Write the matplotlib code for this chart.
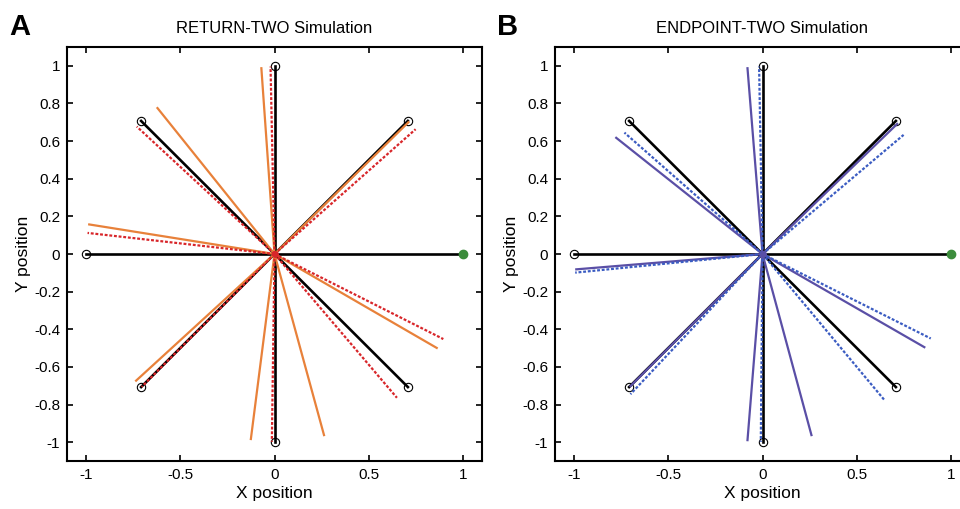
import matplotlib
matplotlib.use("Agg")
import matplotlib.pyplot as plt
import numpy as np

plt.rcParams['font.family'] = ['Liberation Sans', 'DejaVu Sans']

# Targets (unit circle, 8 directions)
target_x = [1, 0.7071, 0, -0.7071, -1, -0.7071, 0, 0.7071]
target_y = [0, 0.7071, 1, 0.7071, 0, -0.7071, -1, -0.7071]

# Panel A: RETURN-TWO simulation
a_solid_x = [-0.07, -0.624, -0.988, -0.738, -0.126, 0.264, 0.865, 0.714]
a_solid_y = [0.993, 0.780, 0.158, -0.677, -0.989, -0.968, -0.502, 0.704]
a_dash_x = [-0.021, -0.730, -0.991, -0.704, -0.014, 0.649, 0.895, 0.748]
a_dash_y = [0.996, 0.677, 0.112, -0.706, -0.998, -0.764, -0.452, 0.663]

# Panel B: ENDPOINT-TWO simulation
b_solid_x = [-0.080, -0.780, -0.993, -0.704, -0.080, 0.261, 0.863, 0.718]
b_solid_y = [0.993, 0.621, -0.082, -0.706, -0.995, -0.968, -0.498, 0.695]
b_dash_x = [-0.018, -0.732, -0.993, -0.700, -0.009, 0.647, 0.892, 0.748]
b_dash_y = [0.996, 0.645, -0.099, -0.745, -0.998, -0.777, -0.449, 0.633]

ticks_x = [-1, -0.5, 0, 0.5, 1]
ticks_y = [-1, -0.8, -0.6, -0.4, -0.2, 0, 0.2, 0.4, 0.6, 0.8, 1]

fig = plt.figure(figsize=(9.6, 5.09), dpi=100)
W, H = 960, 509

def make_ax(left_px, title, letter, solid_x, solid_y, dash_x, dash_y, solid_c, dash_c, center_c):
    ax = fig.add_axes([left_px / W, 1 - 461 / H, 415 / W, 414 / H])
    for sx, sy in zip(solid_x, solid_y):
        ax.plot([0, sx], [0, sy], color=solid_c, lw=1.6, solid_capstyle='butt', zorder=3)
    for tx, ty in zip(target_x, target_y):
        ax.plot([0, tx], [0, ty], color='black', lw=1.9, zorder=2)
    for dx, dy in zip(dash_x, dash_y):
        ax.plot([0, dx], [0, dy], color=dash_c, lw=1.6, linestyle=(0, (1.3, 0.8)), zorder=4)
    ax.plot(target_x[1:], target_y[1:], 'o', ms=6, mfc='white', mec='black', mew=0.8,
            zorder=1, linestyle='none')
    ax.plot([target_x[0]], [target_y[0]], 'o', ms=6, mfc='#3c8c3c', mec='#3c8c3c', zorder=5)
    ax.plot([0], [0], 'o', ms=4, color=center_c, zorder=6)
    ax.set_xlim(-1.1, 1.1)
    ax.set_ylim(-1.1, 1.1)
    ax.set_xticks(ticks_x)
    ax.set_xticklabels(['-1', '-0.5', '0', '0.5', '1'])
    ax.set_yticks(ticks_y)
    ax.set_yticklabels(['-1', '-0.8', '-0.6', '-0.4', '-0.2', '0', '0.2', '0.4', '0.6', '0.8', '1'])
    ax.tick_params(direction='in', length=4, width=1.2, top=True, right=True,
                   labelsize=11, pad=5)
    for s in ax.spines.values():
        s.set_linewidth(1.5)
    ax.set_xlabel('X position', fontsize=12.5, labelpad=3)
    ax.set_ylabel('Y position', fontsize=12.5, labelpad=2)
    ax.set_title(title, fontsize=12, pad=10)
    fig.text((left_px - 58) / W, 1 - 27 / H, letter, fontsize=21, fontweight='bold',
             va='center', ha='left')
    return ax

make_ax(67, 'RETURN-TWO Simulation', 'A', a_solid_x, a_solid_y, a_dash_x, a_dash_y,
        '#e8813a', '#d8262a', '#d8262a')
make_ax(555, 'ENDPOINT-TWO Simulation', 'B', b_solid_x, b_solid_y, b_dash_x, b_dash_y,
        '#5a4fa6', '#3b5cc2', '#5a4fa6')

fig.savefig('out.png', dpi=100)
